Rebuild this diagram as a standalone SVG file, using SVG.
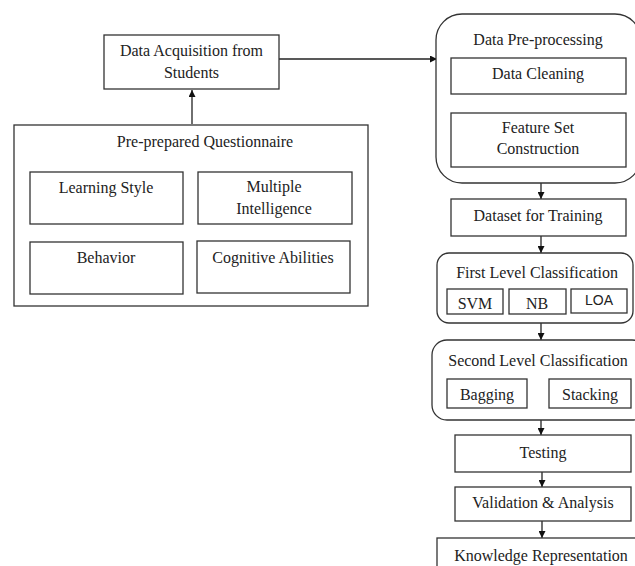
<svg xmlns="http://www.w3.org/2000/svg" width="635" height="566" viewBox="0 0 635 566">
<defs>
<marker id="ah" viewBox="0 0 10 10" refX="10" refY="5" markerWidth="7" markerHeight="7" orient="auto" markerUnits="userSpaceOnUse"><path d="M0,0 L10,5 L0,10 z" fill="#111"/></marker>
<style>
.b{fill:#fff;stroke:#333;stroke-width:1.3}
.t{font-family:"Liberation Serif","Times New Roman",serif;font-size:16px;fill:#222;text-anchor:middle;dominant-baseline:central}
.s{font-family:"Liberation Sans",Arial,sans-serif;font-size:14px;fill:#222;text-anchor:middle;dominant-baseline:central}
.c{stroke:#222;stroke-width:1.3;fill:none;marker-end:url(#ah)}
</style>
</defs>
<rect width="635" height="566" fill="#fff"/>
<g id="connectors">
<path class="c" d="M279,59 H437"/>
<path class="c" d="M192,124 V90"/>
<path class="c" d="M541,183 V199"/>
<path class="c" d="M541,236 V253"/>
<path class="c" d="M541,323 V340"/>
<path class="c" d="M541,420 V435"/>
<path class="c" d="M542,472 V487"/>
<path class="c" d="M542,521 V538"/>
</g>
<g id="acq"><rect class="b" x="104" y="35" width="175" height="54"/><text class="t" x="191.5" y="50">Data Acquisition from</text><text class="t" x="191.5" y="72">Students</text></g>
<g id="questionnaire"><rect class="b" x="14" y="125" width="354" height="181"/><text class="t" x="205" y="141">Pre-prepared Questionnaire</text></g>
<g id="learning"><rect class="b" x="30" y="172" width="153" height="52"/><text class="t" x="106" y="187">Learning Style</text></g>
<g id="multiple"><rect class="b" x="198" y="172" width="154" height="52"/><text class="t" x="274" y="186">Multiple</text><text class="t" x="274" y="208">Intelligence</text></g>
<g id="behavior"><rect class="b" x="30" y="242" width="153" height="52"/><text class="t" x="106" y="257">Behavior</text></g>
<g id="cognitive"><rect class="b" x="197" y="241" width="153" height="52"/><text class="t" x="273" y="257">Cognitive Abilities</text></g>
<g id="preproc"><rect class="b" x="436" y="14" width="205" height="169" rx="26"/><text class="t" x="538" y="39">Data Pre-processing</text></g>
<g id="cleaning"><rect class="b" x="451" y="58" width="175" height="36"/><text class="t" x="538" y="73">Data Cleaning</text></g>
<g id="feature"><rect class="b" x="451" y="113" width="175" height="54"/><text class="t" x="538" y="127">Feature Set</text><text class="t" x="538" y="148">Construction</text></g>
<g id="dataset"><rect class="b" x="451" y="199" width="175" height="37"/><text class="t" x="538" y="215">Dataset for Training</text></g>
<g id="first"><rect class="b" x="437" y="253" width="196" height="70" rx="12"/><text class="t" x="537" y="272">First Level Classification</text></g>
<g id="svm"><rect class="b" x="447" y="289" width="56" height="25"/><text class="t" x="475" y="303">SVM</text></g>
<g id="nb"><rect class="b" x="509" y="289" width="57" height="25"/><text class="t" x="537" y="303">NB</text></g>
<g id="loa"><rect class="b" x="571" y="289" width="56" height="24"/><text class="s" x="599" y="300">LOA</text></g>
<g id="second"><rect class="b" x="432" y="340" width="215" height="80" rx="15"/><text class="t" x="538" y="360">Second Level Classification</text></g>
<g id="bagging"><rect class="b" x="447" y="379" width="80" height="29"/><text class="t" x="487" y="394">Bagging</text></g>
<g id="stacking"><rect class="b" x="549" y="379" width="82" height="29"/><text class="t" x="590" y="394">Stacking</text></g>
<g id="testing"><rect class="b" x="455" y="435" width="176" height="37"/><text class="t" x="543" y="452">Testing</text></g>
<g id="validation"><rect class="b" x="455" y="487" width="176" height="34"/><text class="t" x="543" y="502">Validation &amp; Analysis</text></g>
<g id="knowledge"><rect class="b" x="437" y="538" width="210" height="40"/><text class="t" x="541" y="555">Knowledge Representation</text></g>
</svg>
